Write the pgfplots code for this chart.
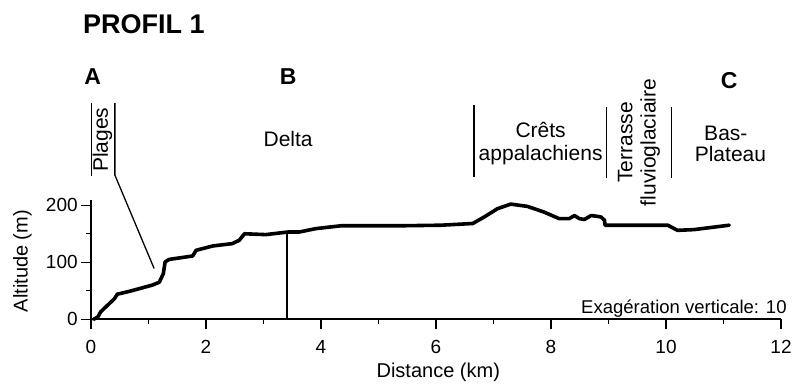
\documentclass[border=0pt]{standalone}
\usepackage{fontspec}
\setmainfont{Liberation Sans}
\usepackage{pgfplots}
\pgfplotsset{compat=1.18}
\newcommand{\fs}[1]{\fontsize{#1bp}{1.15\dimexpr#1bp\relax}\selectfont}
\begin{document}
\begin{tikzpicture}
\begin{axis}[
  x=57.5bp, y=0.57bp,
  xmin=0, xmax=12, ymin=0, ymax=210,
  axis x line=bottom, axis y line=left,
  axis line style={-, line width=1.6bp},
  clip=false,
  xtick={0,2,...,12}, ytick={0,100,200},
  minor xtick={1,3,...,11}, minor ytick={50,150},
  tick align=outside,
  major tick length=10bp, minor tick length=5bp,
  every tick/.style={black, line width=1.4bp},
  tick label style={font=\fs{19}, inner sep=0pt},
  /pgf/number format/assume math mode=true,
  xticklabel style={yshift=-11bp},
  yticklabel style={xshift=-3bp},
]
% bounding box of the whole picture
\path (axis cs:-1.58,-122) rectangle (axis cs:12.26,560);
% profile
\addplot[black, line width=3.6bp, line join=round, line cap=round] coordinates {
(0.05,0) (0.12,4) (0.17,13) (0.32,27.5) (0.41,36) (0.46,44) (0.67,49) (1.07,60)
(1.19,65) (1.26,80) (1.29,100.5) (1.36,105) (1.77,111) (1.83,121) (2.12,128.6)
(2.46,132.7) (2.58,138.6) (2.67,150) (3.04,148.5) (3.42,153) (3.62,153) (3.91,159)
(4.35,164) (5.39,164) (6.09,165) (6.64,168) (6.84,179.5) (7.07,194) (7.3,202)
(7.59,198) (7.88,188) (8.14,176.6) (8.32,176.6) (8.41,182) (8.49,176.6) (8.58,175)
(8.7,182) (8.87,179.5) (8.93,173.7) (8.94,165) (10.03,165) (10.2,156) (10.49,157.3)
(11.1,165)
};
% annotations
\node[anchor=west, inner sep=0pt, font=\fs{27}\bfseries] at (axis cs:-0.14,517) {PROFIL 1};
\node[inner sep=0pt, font=\fs{23}\bfseries] at (axis cs:0.03,425) {A};
\node[inner sep=0pt, font=\fs{23}\bfseries] at (axis cs:3.43,425) {B};
\node[inner sep=0pt, font=\fs{23}\bfseries] at (axis cs:11.1,419) {C};
\draw[line width=1.3bp] (axis cs:0.012,379) -- (axis cs:0.012,252);
\draw[line width=1.3bp] (axis cs:0.417,379) -- (axis cs:0.417,253) -- (axis cs:1.1,89);
\node[rotate=90, inner sep=0pt, font=\fs{21}] at (axis cs:0.2,315) {Plages};
\node[inner sep=0pt, font=\fs{21}] at (axis cs:3.43,316) {Delta};
\draw[line width=1.3bp] (axis cs:3.41,0) -- (axis cs:3.41,153);
\draw[line width=1.3bp] (axis cs:6.66,375) -- (axis cs:6.66,249);
\node[anchor=base, inner sep=0pt, font=\fs{21}, align=center] at (axis cs:7.82,319) {Crêts};
\node[anchor=base, inner sep=0pt, font=\fs{21}] at (axis cs:7.82,279) {appalachiens};
\draw[line width=1.3bp] (axis cs:8.97,372) -- (axis cs:8.97,247);
\node[rotate=90, inner sep=0pt, font=\fs{21}, align=center] at (axis cs:9.53,310) {Terrasse\\[-1bp]fluvioglaciaire};
\draw[line width=1.3bp] (axis cs:10.09,372) -- (axis cs:10.09,247);
\node[anchor=base, inner sep=0pt, font=\fs{21}] at (axis cs:11.04,314) {Bas-};
\node[anchor=base, inner sep=0pt, font=\fs{21}] at (axis cs:11.12,276) {Plateau};
\node[anchor=base east, inner sep=0pt, font=\fs{18.5}] at (axis cs:12.1,10) {Exagération verticale: 10};
\node[inner sep=0pt, font=\fs{20}] at (axis cs:6.04,-93) {Distance (km)};
\node[rotate=90, inner sep=0pt, font=\fs{20}] at (axis cs:-1.19,102) {Altitude (m)};
\end{axis}
\end{tikzpicture}
\end{document}
